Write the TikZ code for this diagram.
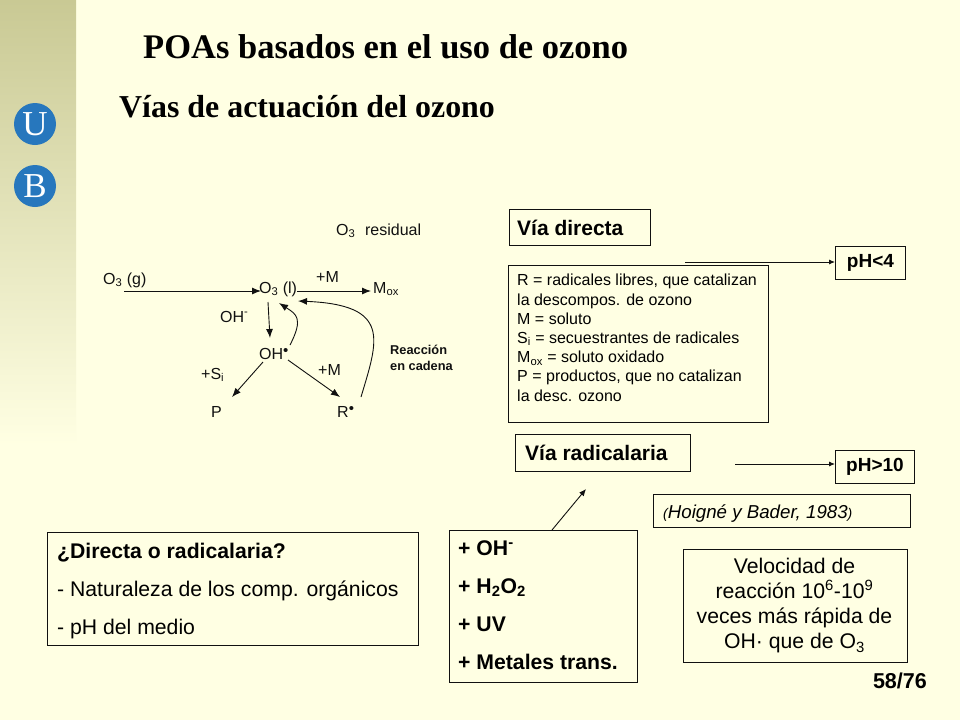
\documentclass[tikz,border=0pt]{standalone}
\usepackage{fontspec}
\setmainfont{Liberation Sans}
\newfontfamily\titlefont{Liberation Serif}
\usetikzlibrary{arrows.meta}
\definecolor{mybg}{HTML}{FFFFE3}
\definecolor{mystrip}{HTML}{C9C994}
\definecolor{myblue}{HTML}{2777BD}
\definecolor{myline}{HTML}{111111}
\newcommand{\rdot}{\raisebox{.25em}{\fs{15}{15}\textbullet}}
\newcommand{\fs}[2]{\fontsize{#1}{#2}\selectfont}
\tikzset{
	flecha/.style={draw=myline,line width=0.9pt,-{Latex[length=9pt,width=7pt]}},
	caja/.style={draw=myline,line width=0.9pt,anchor=north west,inner sep=0pt},
	marca/.style={anchor=base west,inner sep=0pt,text=myline,font=\fs{16}{19}},
	logo/.style={circle,fill=myblue,minimum size=42pt,inner sep=0pt,text=white,font=\titlefont\fs{35}{35}},
	titulo/.style={anchor=base west,inner sep=0pt,font=\titlefont\bfseries\fs{34.5}{38}},
}
\begin{document}
\begin{tikzpicture}[x=1pt,y=-1pt]
	%% Background and left strip
	\fill[mybg] (0,0) rectangle (960,720);
	\shade[top color=mystrip,bottom color=mybg] (0,0) rectangle (76,445);
	\useasboundingbox (0,0) rectangle (960,720);
	\node[logo] (u) at (35,124) {U};
	\node[logo] (b) at (35,186) {B};
	%% Titles
	\node[titulo] (title) at (143,58) {POAs basados en el uso de ozono};
	\node[titulo,font=\titlefont\bfseries\fs{31.9}{35}] (subtitle) at (119,117) {Vías de actuación del ozono};
	%% Reaction scheme
	\node[marca] (resid) at (336,235) {O\textsubscript{3}\,\, residual};
	\node[marca] (o3g) at (103,284) {O\textsubscript{3} (g)};
	\node[marca] (o3l) at (259,293) {O\textsubscript{3} (l)};
	\node[marca] (mas1) at (316,282) {+M};
	\node[marca] (mox) at (373,293) {M\textsubscript{ox}};
	\node[marca] (ohm) at (220,322) {OH\textsuperscript{-}};
	\node[marca] (oh) at (259,359) {OH\rdot};
	\node[marca] (si) at (201,379) {+S\textsubscript{i}};
	\node[marca] (mas2) at (318,375) {+M};
	\node[marca] (p) at (211,417) {P};
	\node[marca] (r) at (337,417) {R\rdot};
	\node[marca,font=\bfseries\fs{12.8}{15.5},align=left,anchor=north west] (cadena) at (390,345) {Reacción\\en cadena};
	\coordinate (o3gend) at (124,291);
	\coordinate (o3lin) at (261,291);
	\coordinate (o3lout) at (297,291);
	\coordinate (moxin) at (371,291);
	\coordinate (o3ldown) at (268,302);
	\coordinate (ohtop) at (270,338);
	\coordinate (ohup) at (290,345);
	\coordinate (o3lbot) at (279,303);
	\coordinate (rup) at (361,397);
	\coordinate (o3lright) at (298,301);
	\coordinate (ohleft) at (263,362);
	\coordinate (ptop) at (232,397);
	\coordinate (ohright) at (288,360);
	\coordinate (rtop) at (340,397);
	\draw[flecha] (o3gend) -- (o3lin);
	\draw[flecha] (o3lout) -- (moxin);
	\draw[flecha] (o3ldown) -- (ohtop);
	\draw[flecha] (ohleft) -- (ptop);
	\draw[flecha] (ohright) -- (rtop);
	\draw[flecha] (ohup) .. controls (304,318) and (296,314) .. (o3lbot);
	\draw[flecha] (rup) .. controls (378,340) and (392,305) .. (o3lright);
	%% Boxes on the right
	\node[caja,minimum width=141pt,minimum height=36pt] (directa) at (508.5,209) {};
	\node[anchor=base west,inner sep=0pt,font=\bfseries\fs{21}{24}] (directatxt) at (517,235) {Vía directa};
	\node[caja,minimum width=260pt,minimum height=157pt] (leyenda) at (508,265) {};
	\node[anchor=north west,inner sep=0pt,align=left,font=\fs{16}{19.2}] (leyendatxt) at (517,274) {R = radicales libres, que catalizan\\la descompos. de ozono\\M = soluto\\S\textsubscript{i} = secuestrantes de radicales\\M\textsubscript{ox} = soluto oxidado\\P = productos, que no catalizan\\la desc. ozono};
	\node[caja,minimum width=70pt,minimum height=33pt,font=\bfseries\fs{19}{22}] (ph4) at (835,245.5) {pH<4};
	\coordinate (directaend) at (685,262);
	\draw[flecha,-{Latex[length=6pt,width=5pt]}] (directaend) -- (ph4.west |- directaend);
	\node[caja,minimum width=175pt,minimum height=37pt] (viarad) at (515,434) {};
	\node[anchor=base west,inner sep=0pt,font=\bfseries\fs{21}{24}] (viaradtxt) at (525,460) {Vía radicalaria};
	\node[caja,minimum width=79pt,minimum height=33pt,font=\bfseries\fs{19}{22}] (ph10) at (835,450) {pH>10};
	\coordinate (viaradend) at (735,464);
	\draw[flecha,-{Latex[length=6pt,width=5pt]}] (viaradend) -- (ph10.west |- viaradend);
	\node[caja,minimum width=257pt,minimum height=33pt] (hoigne) at (653,494) {};
	\node[anchor=base west,inner sep=0pt,font=\itshape\fs{18.7}{21}] (hoignetxt) at (663,518) {{\fs{14}{18}(}Hoigné y Bader, 1983{\fs{14}{18})}};
	\node[caja,minimum width=224pt,minimum height=113pt] (velocidad) at (683,549) {};
	\node[anchor=center,inner sep=0pt,align=center,font=\fs{21.2}{25.3}] (velocidadtxt) at (794.5,605.5) {Velocidad de\\reacción 10\textsuperscript{6}-10\textsuperscript{9}\\veces más rápida de\\OH· que de O\textsubscript{3}};
	%% Boxes at the bottom
	\node[caja,minimum width=371pt,minimum height=113pt] (pregunta) at (47,532) {};
	\node[anchor=north west,inner sep=0pt,align=left,font=\fs{21.2}{20}] (preguntatxt) at (57,543) {\textbf{¿Directa o radicalaria?}\\[18pt]- Naturaleza de los comp. orgánicos\\[18pt]- pH del medio};
	\node[caja,minimum width=188pt,minimum height=152pt] (agentes) at (449,530) {};
	\node[anchor=north west,inner sep=0pt,align=left,font=\bfseries\fs{21.2}{20}] (agentestxt) at (458,540.5) {+ OH\textsuperscript{-}\\[18pt]+ H\textsubscript{2}O\textsubscript{2}\\[18pt]+ UV\\[18pt]+ Metales trans.};
	\coordinate (agentestop) at (552,530);
	\coordinate (viaradbot) at (586,489);
	\draw[flecha,-{Latex[length=7pt,width=6pt]}] (agentestop) -- (viaradbot);
	\node[anchor=base east,inner sep=0pt,font=\bfseries\fs{21.5}{24}] (pagina) at (927,688) {58/76};
\end{tikzpicture}
\end{document}
